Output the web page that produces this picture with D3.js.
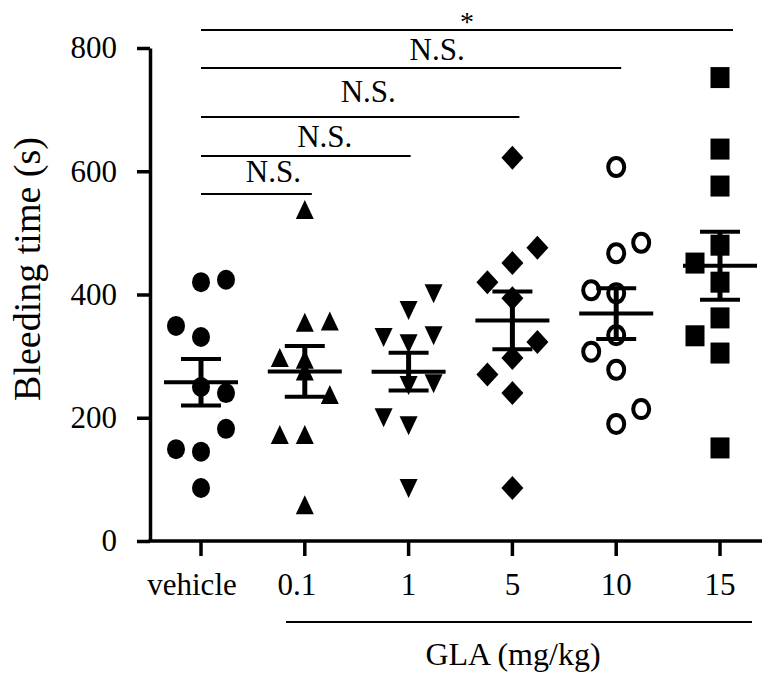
<!DOCTYPE html>
<html lang="en">
<head>
  <meta charset="UTF-8" />
  <title>Bleeding time by GLA dose</title>
  <style>
    body {
      margin: 0;
      background: #fff;
    }
    svg {
      display: block;
      background: #fff;
      font-family: "Liberation Serif", "Times New Roman", serif;
    }
    .axis path, .axis line {
      stroke: #000;
    }
  </style>
</head>
<body>
  <svg id="chart" width="764" height="673" viewBox="0 0 764 673" xmlns="http://www.w3.org/2000/svg"></svg>

  <script src="https://d3js.org/d3.v7.min.js"></script>
  <script>
    const width = 764;
    const height = 673;
    const svg = d3.select("#chart");

    // groups and their readings (s)
    const categories = ["vehicle", "0.1", "1", "5", "10", "15"];
    const shapes = ["circle", "triangleUp", "triangleDown", "diamond", "openCircle", "square"];
    const yTicks = [0, 200, 400, 600, 800];

    const vehicleValues = [420, 424, 349, 331, 250, 240, 182, 149, 145, 86];
    const dose01Values  = [537, 354, 356, 297, 294, 275, 237, 172, 172, 58];
    const dose1Values   = [402, 375, 331, 334, 321, 256, 253, 201, 188, 86];
    const dose5Values   = [622, 476, 451, 420, 394, 323, 297, 270, 240, 86];
    const dose10Values  = [607, 484, 467, 407, 402, 334, 307, 278, 214, 190];
    const dose15Values  = [752, 636, 576, 480, 451, 420, 362, 333, 305, 151];

    // which side-by-side lane each point sits in (-1 left, 0 centre, 1 right)
    const vehicleLanes = [0, 1, -1, 0, 0, 1, 1, -1, 0, 0];
    const dose01Lanes  = [0, 0, 1, -1, 0, 0, 1, -1, 0, 0];
    const dose1Lanes   = [1, 0, -1, 1, 0, 1, 0, -1, 0, 0];
    const dose5Lanes   = [0, 1, 0, -1, 0, 1, 0, -1, 0, 0];
    const dose10Lanes  = [0, 1, 0, -1, 0, 0, -1, 0, 1, 0];
    const dose15Lanes  = [0, 0, 0, 0, -1, 0, 0, -1, 0, 0];

    const brackets = [
      { from: "vehicle", to: "0.1", label: "N.S." },
      { from: "vehicle", to: "1", label: "N.S." },
      { from: "vehicle", to: "5", label: "N.S." },
      { from: "vehicle", to: "10", label: "N.S." },
      { from: "vehicle", to: "15", label: "*" }
    ];

    const groupValues = [vehicleValues, dose01Values, dose1Values, dose5Values, dose10Values, dose15Values];
    const groupLanes = [vehicleLanes, dose01Lanes, dose1Lanes, dose5Lanes, dose10Lanes, dose15Lanes];

    const axisX = 150;
    const axisY = 541;
    const laneGap = 25;

    const x = d3.scalePoint().domain(categories).range([201, 720]);
    const y = d3.scaleLinear().domain([0, 800]).range([axisY, 48]);

    // y axis
    const yAxis = svg.append("g")
      .attr("class", "axis")
      .attr("transform", `translate(${axisX},0)`)
      .call(d3.axisLeft(y).tickValues(yTicks).tickSize(13).tickPadding(20).tickSizeOuter(0));
    yAxis.select(".domain").attr("stroke-width", 3.5);
    yAxis.selectAll(".tick line").attr("stroke-width", 3.5);
    yAxis.selectAll(".tick text")
      .attr("font-family", "Liberation Serif, serif")
      .attr("font-size", 31)
      .attr("fill", "#000");

    // x axis
    svg.append("line")
      .attr("x1", axisX - 1.75).attr("x2", 762)
      .attr("y1", axisY).attr("y2", axisY)
      .attr("stroke", "#000").attr("stroke-width", 3.5);

    const labelNudge = [-9, -8, 0, 0, 0, 0];
    const xTick = svg.append("g").selectAll("g")
      .data(categories)
      .enter().append("g")
      .attr("transform", d => `translate(${x(d)},${axisY})`);
    xTick.append("line")
      .attr("y1", 0).attr("y2", 15)
      .attr("stroke", "#000").attr("stroke-width", 3.5);
    xTick.append("text")
      .attr("x", (d, i) => labelNudge[i])
      .attr("y", 54)
      .attr("text-anchor", "middle")
      .attr("font-size", 31)
      .text(d => d);

    // GLA group line and label
    svg.append("line")
      .attr("x1", 286).attr("x2", 752)
      .attr("y1", 622).attr("y2", 622)
      .attr("stroke", "#000").attr("stroke-width", 1.8);
    svg.append("text")
      .attr("x", 513).attr("y", 665)
      .attr("text-anchor", "middle")
      .attr("font-size", 32)
      .text("GLA (mg/kg)");

    // y title
    svg.append("text")
      .attr("transform", "translate(40,269) rotate(-90)")
      .attr("text-anchor", "middle")
      .attr("font-size", 38)
      .text("Bleeding time (s)");

    // markers
    function drawMarker(g, shape) {
      if (shape === "circle") {
        g.append("ellipse").attr("rx", 9).attr("ry", 10).attr("fill", "#000");
      } else if (shape === "openCircle") {
        g.append("ellipse").attr("rx", 8).attr("ry", 9)
          .attr("fill", "#fff").attr("stroke", "#000").attr("stroke-width", 4);
      } else if (shape === "triangleUp") {
        g.append("path").attr("d", "M0,-10L9,9L-9,9Z").attr("fill", "#000");
      } else if (shape === "triangleDown") {
        g.append("path").attr("d", "M0,10L9,-9L-9,-9Z").attr("fill", "#000");
      } else if (shape === "diamond") {
        g.append("path").attr("d", "M0,-12L11,0L0,12L-11,0Z").attr("fill", "#000");
      } else if (shape === "square") {
        g.append("rect").attr("x", -9.5).attr("y", -10.5).attr("width", 19).attr("height", 21).attr("fill", "#000");
      }
    }

    const pointGroup = svg.append("g");
    categories.forEach((cat, i) => {
      groupValues[i].forEach((v, j) => {
        const g = pointGroup.append("g")
          .attr("transform", `translate(${x(cat) + groupLanes[i][j] * laneGap},${y(v)})`);
        drawMarker(g, shapes[i]);
      });
    });

    // mean ± SEM
    const statGroup = svg.append("g");
    categories.forEach((cat, i) => {
      const vals = groupValues[i];
      const mean = d3.mean(vals);
      const sem = d3.deviation(vals) / Math.sqrt(vals.length);
      const cx = x(cat);
      statGroup.append("line")
        .attr("x1", cx).attr("x2", cx)
        .attr("y1", y(mean + sem)).attr("y2", y(mean - sem))
        .attr("stroke", "#000").attr("stroke-width", 5);
      statGroup.append("line")
        .attr("x1", cx - 37).attr("x2", cx + 37)
        .attr("y1", y(mean)).attr("y2", y(mean))
        .attr("stroke", "#000").attr("stroke-width", 4);
      [mean + sem, mean - sem].forEach(v => {
        statGroup.append("line")
          .attr("x1", cx - 20).attr("x2", cx + 20)
          .attr("y1", y(v)).attr("y2", y(v))
          .attr("stroke", "#000").attr("stroke-width", 4);
      });
    });

    // significance brackets
    const bracketY = [194, 156, 117, 68, 30];
    const bracketExt = [7, 2, 7, 5, 13];
    const labelShift = [17, 19, 8, 26, 0];
    const labelGap = [12, 9, 15, 8, 0];
    const bracketGroup = svg.append("g");
    brackets.forEach((b, i) => {
      const x1 = x(b.from);
      const x2 = x(b.to) + bracketExt[i];
      bracketGroup.append("line")
        .attr("x1", x1).attr("x2", x2)
        .attr("y1", bracketY[i]).attr("y2", bracketY[i])
        .attr("stroke", "#000").attr("stroke-width", 1.8);
      bracketGroup.append("text")
        .attr("x", (x1 + x2) / 2 + labelShift[i])
        .attr("y", bracketY[i] - labelGap[i] + (b.label === "*" ? 1 : 0))
        .attr("text-anchor", "middle")
        .attr("font-size", b.label === "*" ? 28 : 31)
        .text(b.label);
    });
  </script>
</body>
</html>
